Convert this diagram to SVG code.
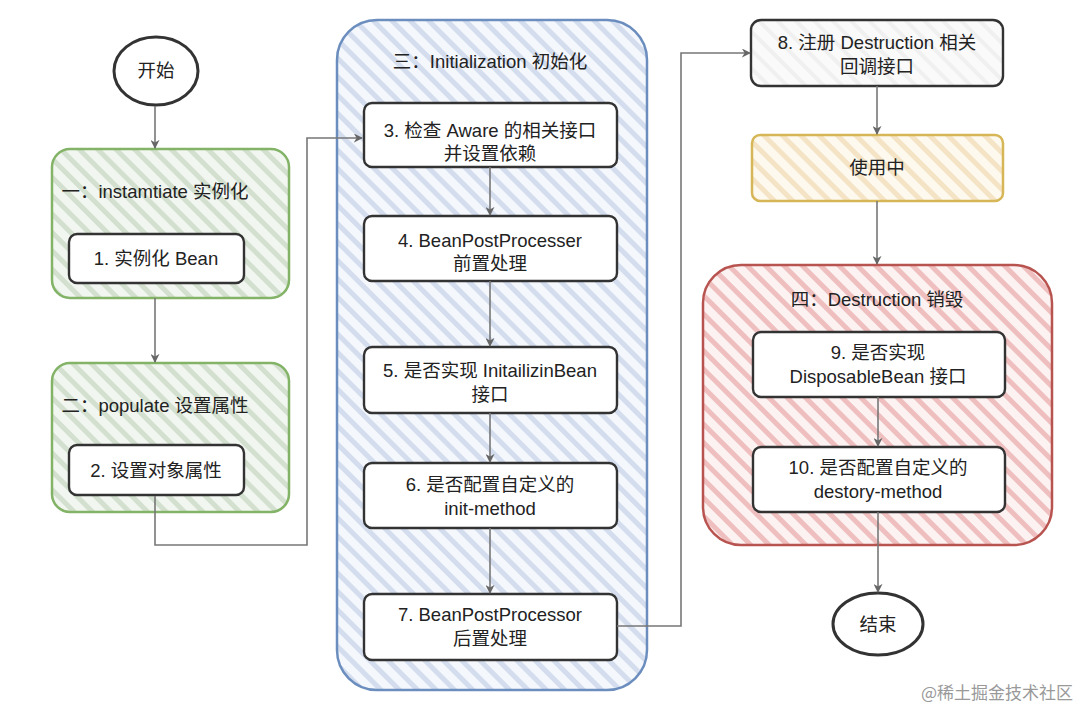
<svg xmlns="http://www.w3.org/2000/svg" width="1080" height="718" viewBox="0 0 1080 718">
<defs>
<pattern id="hg" width="13" height="13" patternUnits="userSpaceOnUse" patternTransform="rotate(-45)"><rect width="13" height="13" fill="#f2f6f0"/><rect width="5" height="13" fill="#d3e0cf"/></pattern>
<pattern id="hb" width="13" height="13" patternUnits="userSpaceOnUse" patternTransform="rotate(-45)"><rect width="13" height="13" fill="#f4f7fc"/><rect width="5" height="13" fill="#d3ddee"/></pattern>
<pattern id="hr" width="13" height="13" patternUnits="userSpaceOnUse" patternTransform="rotate(-45)"><rect width="13" height="13" fill="#fcf2f2"/><rect width="5" height="13" fill="#efbfbf"/></pattern>
<pattern id="hy" width="13" height="13" patternUnits="userSpaceOnUse" patternTransform="rotate(-45)"><rect width="13" height="13" fill="#fdf9ef"/><rect width="5" height="13" fill="#f4e3c4"/></pattern>
<pattern id="hw" width="13" height="13" patternUnits="userSpaceOnUse" patternTransform="rotate(-45)"><rect width="13" height="13" fill="#fafafa"/><rect width="4" height="13" fill="#f0f0f0"/></pattern>
<marker id="ar" viewBox="0 0 10 10" refX="9" refY="5" markerWidth="9" markerHeight="9" markerUnits="userSpaceOnUse" orient="auto"><path d="M0,0 L10,5 L0,10 L3,5 Z" fill="#666"/></marker>
</defs>
<style>
text{font-family:"Liberation Sans","Noto Sans CJK SC",sans-serif;fill:#222;text-anchor:middle;font-size:18.5px}
.box{fill:#fff;stroke:#333;stroke-width:2.4}
.c{fill:none;stroke:#777;stroke-width:1.6}
.ca{fill:none;stroke:#777;stroke-width:1.6;marker-end:url(#ar)}
</style>
<rect width="1080" height="718" fill="#fff"/>

<g id="start"><ellipse cx="156" cy="71" rx="42" ry="34" fill="#fff" stroke="#333" stroke-width="3"/><text x="156" y="77">开始</text></g>

<g id="group1"><rect x="52" y="149" width="237" height="149" rx="18" fill="url(#hg)" stroke="#82b366" stroke-width="2.5"/><text x="155" y="198">一：instamtiate 实例化</text></g>
<g id="node1"><rect class="box" x="69" y="234" width="175" height="49" rx="8"/><text x="156" y="265">1. 实例化 Bean</text></g>

<g id="group2"><rect x="52" y="363" width="237" height="149" rx="18" fill="url(#hg)" stroke="#82b366" stroke-width="2.5"/><text x="155" y="412">二：populate 设置属性</text></g>
<g id="node2"><rect class="box" x="69" y="445" width="175" height="50" rx="8"/><text x="156" y="477">2. 设置对象属性</text></g>

<g id="group3"><rect x="337" y="20" width="310" height="670" rx="40" fill="url(#hb)" stroke="#6c8ebf" stroke-width="2.5"/><text x="490" y="68">三：Initialization 初始化</text></g>
<g id="node3"><rect class="box" x="364" y="103" width="253" height="64" rx="8"/><text x="490" y="137">3. 检查 Aware 的相关接口</text><text x="490" y="160">并设置依赖</text></g>
<g id="node4"><rect class="box" x="364" y="216" width="253" height="65" rx="8"/><text x="490" y="247">4. BeanPostProcesser</text><text x="490" y="270">前置处理</text></g>
<g id="node5"><rect class="box" x="364" y="347" width="253" height="66" rx="8"/><text x="490" y="377">5. 是否实现 InitailizinBean</text><text x="490" y="401">接口</text></g>
<g id="node6"><rect class="box" x="364" y="463" width="253" height="65" rx="8"/><text x="490" y="491">6. 是否配置自定义的</text><text x="490" y="515">init-method</text></g>
<g id="node7"><rect class="box" x="364" y="594" width="253" height="66" rx="8"/><text x="490" y="621">7. BeanPostProcessor</text><text x="490" y="645">后置处理</text></g>

<g id="node8"><rect x="751" y="20" width="252" height="66" rx="10" fill="url(#hw)" stroke="#333" stroke-width="2.4"/><text x="877" y="49">8. 注册 Destruction 相关</text><text x="877" y="73">回调接口</text></g>
<g id="inuse"><rect x="752" y="135" width="251" height="66" rx="8" fill="url(#hy)" stroke="#d6b656" stroke-width="2.5"/><text x="877" y="174">使用中</text></g>

<g id="group4"><rect x="703" y="265" width="349" height="280" rx="38" fill="url(#hr)" stroke="#b85450" stroke-width="2.5"/><text x="877" y="306">四：Destruction 销毁</text></g>
<g id="node9"><rect class="box" x="753" y="332" width="252" height="65" rx="8"/><text x="878" y="359">9. 是否实现</text><text x="878" y="383">DisposableBean 接口</text></g>
<g id="node10"><rect class="box" x="753" y="447" width="252" height="65" rx="8"/><text x="878" y="474">10. 是否配置自定义的</text><text x="878" y="498">destory-method</text></g>

<g id="end"><ellipse cx="878" cy="624" rx="45" ry="31" fill="#fff" stroke="#333" stroke-width="3"/><text x="878" y="631">结束</text></g>

<g id="connectors">
<path class="ca" d="M155,106 V148"/>
<path class="ca" d="M155,298 V362"/>
<path class="ca" d="M155,496 V545 H307 V138 H362"/>
<path class="ca" d="M490,167 V215"/>
<path class="ca" d="M490,281 V346"/>
<path class="ca" d="M490,413 V462"/>
<path class="ca" d="M490,528 V593"/>
<path class="ca" d="M617,626 H681 V53 H750"/>
<path class="ca" d="M877,86 V134"/>
<path class="ca" d="M877,201 V264"/>
<path class="ca" d="M878,397 V446"/>
<path class="ca" d="M878,512 V592"/>
</g>

<text x="997" y="699" style="font-family:'Noto Sans CJK SC','Liberation Serif',serif;font-size:17px;fill:#999">@稀土掘金技术社区</text>
</svg>
